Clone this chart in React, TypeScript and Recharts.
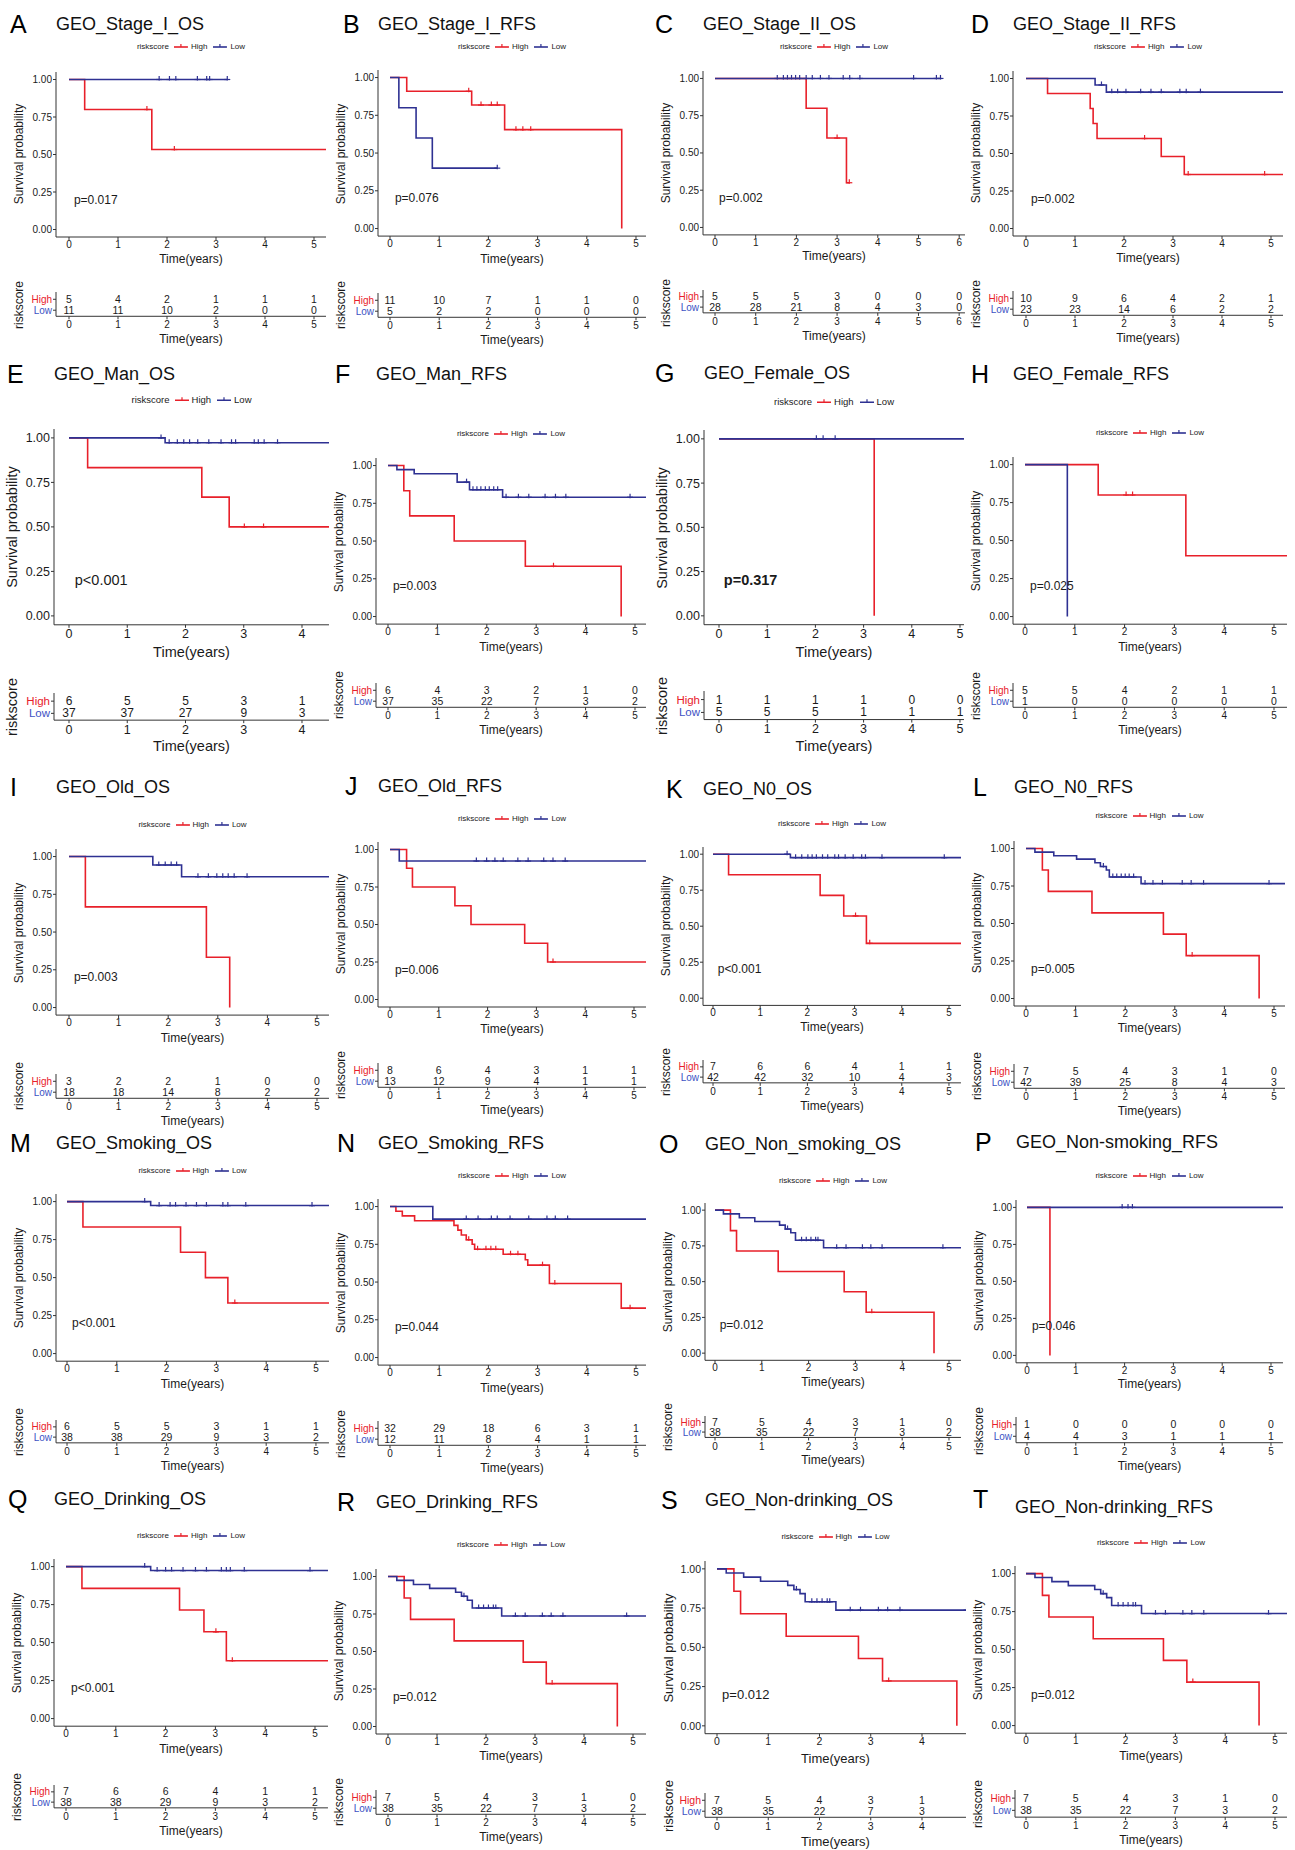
import React from "react";
import { ComposedChart, Line, Scatter, XAxis, YAxis } from "recharts";

type Pt = [number, number];

// Kaplan-Meier steps as [time in years, survival]
const stageIOsHigh: Pt[] = [[0, 1], [0.32, 0.8], [1.69, 0.533], [5.3, 0.533]];
const stageIOsLow: Pt[] = [[0, 1], [3.23, 1]];
const stageIOsHighCens = [1.59, 2.15];
const stageIOsLowCens = [1.84, 2.05, 2.18, 2.62, 2.81, 2.87, 3.23];
const stageIOsRiskHigh = [5, 4, 2, 1, 1, 1];
const stageIOsRiskLow = [11, 11, 10, 2, 0, 0];

const stageIRfsHigh: Pt[] = [[0, 1], [0.34, 0.909], [1.66, 0.818], [2.33, 0.655], [4.71, 0]];
const stageIRfsLow: Pt[] = [[0, 1], [0.18, 0.8], [0.53, 0.6], [0.86, 0.4], [2.18, 0.4]];
const stageIRfsHighCens = [1.6, 1.85, 2.06, 2.18, 2.56, 2.7, 2.86];
const stageIRfsLowCens = [2.18];
const stageIRfsRiskHigh = [11, 10, 7, 1, 1, 0];
const stageIRfsRiskLow = [5, 2, 2, 0, 0, 0];

const stageIIOsHigh: Pt[] = [[0, 1], [2.24, 0.8], [2.75, 0.6], [3.23, 0.3], [3.3, 0.3]];
const stageIIOsLow: Pt[] = [[0, 1], [5.56, 1]];
const stageIIOsHighCens = [3.0, 3.3];
const stageIIOsLowCens = [1.53, 1.68, 1.78, 1.88, 1.98, 2.08, 2.24, 2.39, 2.59, 2.8, 3.15, 3.31, 3.56, 4.88, 5.44, 5.54];
const stageIIOsRiskHigh = [5, 5, 5, 3, 0, 0, 0];
const stageIIOsRiskLow = [28, 28, 21, 8, 4, 3, 0];

const stageIIRfsHigh: Pt[] = [[0, 1], [0.44, 0.9], [1.31, 0.8], [1.37, 0.7], [1.45, 0.6], [2.76, 0.48], [3.23, 0.36], [5.3, 0.36]];
const stageIIRfsLow: Pt[] = [[0, 1], [1.41, 0.957], [1.64, 0.909], [5.3, 0.909]];
const stageIIRfsHighCens = [2.42, 3.31, 4.87];
const stageIIRfsLowCens = [1.54, 1.75, 1.87, 2.04, 2.34, 2.55, 2.76, 3.14, 3.27, 3.56];
const stageIIRfsRiskHigh = [10, 9, 6, 4, 2, 1];
const stageIIRfsRiskLow = [23, 23, 14, 6, 2, 2];

const manOsHigh: Pt[] = [[0, 1], [0.32, 0.833], [2.28, 0.667], [2.75, 0.5], [4.5, 0.5]];
const manOsLow: Pt[] = [[0, 1], [1.65, 0.973], [4.5, 0.973]];
const manOsHighCens = [3.01, 3.34];
const manOsLowCens = [1.58, 1.72, 1.86, 1.97, 2.07, 2.21, 2.4, 2.61, 2.79, 2.86, 3.18, 3.25, 3.35, 3.58];
const manOsRiskHigh = [6, 5, 5, 3, 1];
const manOsRiskLow = [37, 37, 27, 9, 3];

const manRfsHigh: Pt[] = [[0, 1], [0.32, 0.833], [0.44, 0.667], [1.34, 0.5], [2.78, 0.333], [4.72, 0]];
const manRfsLow: Pt[] = [[0, 1], [0.18, 0.973], [0.53, 0.946], [1.4, 0.89], [1.65, 0.84], [2.32, 0.79], [5.3, 0.79]];
const manRfsHighCens = [3.35];
const manRfsLowCens = [1.59, 1.72, 1.8, 1.88, 1.97, 2.05, 2.14, 2.22, 2.39, 2.64, 2.85, 3.18, 3.39, 3.6, 4.9];
const manRfsRiskHigh = [6, 4, 3, 2, 1, 0];
const manRfsRiskLow = [37, 35, 22, 7, 3, 2];

const femaleOsHigh: Pt[] = [[0, 1], [3.22, 0]];
const femaleOsLow: Pt[] = [[0, 1], [5.3, 1]];
const femaleOsHighCens: number[] = [];
const femaleOsLowCens = [2.02, 2.16, 2.41];
const femaleOsRiskHigh = [1, 1, 1, 1, 0, 0];
const femaleOsRiskLow = [5, 5, 5, 1, 1, 1];

const femaleRfsHigh: Pt[] = [[0, 1], [1.47, 0.8], [3.23, 0.4], [5.3, 0.4]];
const femaleRfsLow: Pt[] = [[0, 1], [0.85, 0]];
const femaleRfsHighCens = [2.03, 2.16];
const femaleRfsLowCens: number[] = [];
const femaleRfsRiskHigh = [5, 5, 4, 2, 1, 1];
const femaleRfsRiskLow = [1, 0, 0, 0, 0, 0];

const oldOsHigh: Pt[] = [[0, 1], [0.33, 0.667], [2.77, 0.333], [3.24, 0]];
const oldOsLow: Pt[] = [[0, 1], [1.69, 0.944], [2.27, 0.866], [5.3, 0.866]];
const oldOsHighCens: number[] = [];
const oldOsLowCens = [1.81, 1.94, 2.06, 2.17, 2.6, 2.81, 2.98, 3.1, 3.21, 3.33, 3.59];
const oldOsRiskHigh = [3, 2, 2, 1, 0, 0];
const oldOsRiskLow = [18, 18, 14, 8, 2, 2];

const oldRfsHigh: Pt[] = [[0, 1], [0.34, 0.875], [0.46, 0.75], [1.33, 0.625], [1.66, 0.5], [2.76, 0.375], [3.23, 0.25], [5.3, 0.25]];
const oldRfsLow: Pt[] = [[0, 1], [0.19, 0.923], [5.3, 0.923]];
const oldRfsHighCens = [3.34];
const oldRfsLowCens = [1.77, 1.98, 2.15, 2.32, 2.62, 2.83, 3.15, 3.34, 3.59];
const oldRfsRiskHigh = [8, 6, 4, 3, 1, 1];
const oldRfsRiskLow = [13, 12, 9, 4, 1, 1];

const n0OsHigh: Pt[] = [[0, 1], [0.33, 0.857], [2.27, 0.714], [2.77, 0.571], [3.25, 0.381], [5.3, 0.381]];
const n0OsLow: Pt[] = [[0, 1], [1.64, 0.976], [5.3, 0.976]];
const n0OsHighCens = [3.02, 3.32];
const n0OsLowCens = [1.57, 1.75, 1.88, 2.01, 2.1, 2.19, 2.32, 2.43, 2.58, 2.66, 2.8, 2.97, 3.15, 3.23, 3.58, 4.9];
const n0OsRiskHigh = [7, 6, 6, 4, 1, 1];
const n0OsRiskLow = [42, 42, 32, 10, 4, 3];

const n0RfsHigh: Pt[] = [[0, 1], [0.33, 0.857], [0.45, 0.714], [1.33, 0.571], [2.77, 0.429], [3.23, 0.286], [4.7, 0]];
const n0RfsLow: Pt[] = [[0, 1], [0.18, 0.976], [0.56, 0.952], [1.02, 0.929], [1.39, 0.905], [1.5, 0.88], [1.62, 0.857], [1.68, 0.81], [2.32, 0.766], [5.3, 0.766]];
const n0RfsHighCens = [3.35];
const n0RfsLowCens = [1.56, 1.75, 1.83, 1.92, 2.0, 2.08, 2.17, 2.4, 2.56, 2.75, 3.15, 3.33, 3.58, 4.9];
const n0RfsRiskHigh = [7, 5, 4, 3, 1, 0];
const n0RfsRiskLow = [42, 39, 25, 8, 4, 3];

const smokingOsHigh: Pt[] = [[0, 1], [0.32, 0.833], [2.28, 0.667], [2.78, 0.5], [3.23, 0.333], [5.3, 0.333]];
const smokingOsLow: Pt[] = [[0, 1], [1.68, 0.974], [5.3, 0.974]];
const smokingOsHighCens = [3.37];
const smokingOsLowCens = [1.56, 1.85, 2.07, 2.18, 2.39, 2.6, 2.8, 3.13, 3.23, 3.59, 4.92];
const smokingOsRiskHigh = [6, 5, 5, 3, 1, 1];
const smokingOsRiskLow = [38, 38, 29, 9, 3, 2];

const smokingRfsHigh: Pt[] = [
  [0, 1], [0.12, 0.969], [0.25, 0.938], [0.5, 0.906], [1.3, 0.875], [1.38, 0.844], [1.45, 0.812], [1.55, 0.78],
  [1.67, 0.75], [1.72, 0.717], [2.3, 0.684], [2.75, 0.648], [2.8, 0.612], [3.24, 0.49], [4.7, 0.327], [5.3, 0.327],
];
const smokingRfsLow: Pt[] = [[0, 1], [0.87, 0.917], [5.3, 0.917]];
const smokingRfsHighCens = [1.6, 1.78, 1.95, 2.05, 2.15, 2.45, 2.6, 3.1, 3.35, 4.88];
const smokingRfsLowCens = [1.55, 1.79, 2.06, 2.18, 2.44, 2.82, 3.19, 3.36, 3.61];
const smokingRfsRiskHigh = [32, 29, 18, 6, 3, 1];
const smokingRfsRiskLow = [12, 11, 8, 4, 1, 1];

// O, R, S and T show the same pair of curves
const nonSmokingOsHigh: Pt[] = [[0, 1], [0.33, 0.857], [0.46, 0.714], [1.35, 0.571], [2.76, 0.429], [3.23, 0.286], [4.68, 0]];
const nonSmokingOsLow: Pt[] = [[0, 1], [0.18, 0.974], [0.52, 0.947], [0.85, 0.921], [1.38, 0.895], [1.5, 0.868], [1.62, 0.842], [1.72, 0.79], [2.32, 0.737], [5.3, 0.737]];
const nonSmokingOsHighCens = [3.35];
const nonSmokingOsLowCens = [1.55, 1.85, 1.95, 2.05, 2.15, 2.2, 2.6, 2.8, 3.15, 3.33, 3.57, 4.87];
const nonSmokingOsRiskHigh = [7, 5, 4, 3, 1, 0];
const nonSmokingOsRiskLow = [38, 35, 22, 7, 3, 2];

const nonSmokingRfsHigh: Pt[] = [[0, 1], [0.47, 0]];
const nonSmokingRfsLow: Pt[] = [[0, 1], [5.3, 1]];
const nonSmokingRfsHighCens: number[] = [];
const nonSmokingRfsLowCens = [1.95, 2.07, 2.16];
const nonSmokingRfsRiskHigh = [1, 0, 0, 0, 0, 0];
const nonSmokingRfsRiskLow = [4, 4, 3, 1, 1, 1];

const drinkingOsHigh: Pt[] = [[0, 1], [0.32, 0.857], [2.28, 0.714], [2.77, 0.571], [3.22, 0.381], [5.3, 0.381]];
const drinkingOsLow: Pt[] = [[0, 1], [1.7, 0.974], [5.3, 0.974]];
const drinkingOsHighCens = [3.01, 3.34];
const drinkingOsLowCens = [1.58, 1.83, 2.0, 2.12, 2.35, 2.6, 2.82, 3.12, 3.22, 3.3, 3.58, 4.9];
const drinkingOsRiskHigh = [7, 6, 6, 4, 1, 1];
const drinkingOsRiskLow = [38, 38, 29, 9, 3, 2];

const drinkingRfsRiskHigh = [7, 5, 4, 3, 1, 0];
const drinkingRfsRiskLow = [38, 35, 22, 7, 3, 2];
const nonDrinkingOsRiskHigh = [7, 5, 4, 3, 1];
const nonDrinkingOsRiskLow = [38, 35, 22, 7, 3];
const nonDrinkingRfsRiskHigh = [7, 5, 4, 3, 1, 0];
const nonDrinkingRfsRiskLow = [38, 35, 22, 7, 3, 2];

const RED = "#E8202A";
const BLUE = "#2E3192";
const LOW_LAB = "#4052C4";
const AXIS = "#333333";
const INK = "#1a1a1a";
const FONT = "'Liberation Sans', Arial, Helvetica, sans-serif";

const HIGH_ROW = 0.7;
const LOW_ROW = 0.25;
const P_AT = { t: 0.1, s: 0.2 };
const YW = 44;
const XH = 26;

const panels = [
  { id: "A", title: "GEO_Stage_I_OS", p: "p=0.017", high: stageIOsHigh, low: stageIOsLow, hc: stageIOsHighCens, lc: stageIOsLowCens, rh: stageIOsRiskHigh, rl: stageIOsRiskLow },
  { id: "B", title: "GEO_Stage_I_RFS", p: "p=0.076", high: stageIRfsHigh, low: stageIRfsLow, hc: stageIRfsHighCens, lc: stageIRfsLowCens, rh: stageIRfsRiskHigh, rl: stageIRfsRiskLow },
  { id: "C", title: "GEO_Stage_II_OS", p: "p=0.002", high: stageIIOsHigh, low: stageIIOsLow, hc: stageIIOsHighCens, lc: stageIIOsLowCens, rh: stageIIOsRiskHigh, rl: stageIIOsRiskLow },
  { id: "D", title: "GEO_Stage_II_RFS", p: "p=0.002", high: stageIIRfsHigh, low: stageIIRfsLow, hc: stageIIRfsHighCens, lc: stageIIRfsLowCens, rh: stageIIRfsRiskHigh, rl: stageIIRfsRiskLow },
  { id: "E", title: "GEO_Man_OS", p: "p<0.001", high: manOsHigh, low: manOsLow, hc: manOsHighCens, lc: manOsLowCens, rh: manOsRiskHigh, rl: manOsRiskLow },
  { id: "F", title: "GEO_Man_RFS", p: "p=0.003", high: manRfsHigh, low: manRfsLow, hc: manRfsHighCens, lc: manRfsLowCens, rh: manRfsRiskHigh, rl: manRfsRiskLow },
  { id: "G", title: "GEO_Female_OS", p: "p=0.317", high: femaleOsHigh, low: femaleOsLow, hc: femaleOsHighCens, lc: femaleOsLowCens, rh: femaleOsRiskHigh, rl: femaleOsRiskLow },
  { id: "H", title: "GEO_Female_RFS", p: "p=0.025", high: femaleRfsHigh, low: femaleRfsLow, hc: femaleRfsHighCens, lc: femaleRfsLowCens, rh: femaleRfsRiskHigh, rl: femaleRfsRiskLow },
  { id: "I", title: "GEO_Old_OS", p: "p=0.003", high: oldOsHigh, low: oldOsLow, hc: oldOsHighCens, lc: oldOsLowCens, rh: oldOsRiskHigh, rl: oldOsRiskLow },
  { id: "J", title: "GEO_Old_RFS", p: "p=0.006", high: oldRfsHigh, low: oldRfsLow, hc: oldRfsHighCens, lc: oldRfsLowCens, rh: oldRfsRiskHigh, rl: oldRfsRiskLow },
  { id: "K", title: "GEO_N0_OS", p: "p<0.001", high: n0OsHigh, low: n0OsLow, hc: n0OsHighCens, lc: n0OsLowCens, rh: n0OsRiskHigh, rl: n0OsRiskLow },
  { id: "L", title: "GEO_N0_RFS", p: "p=0.005", high: n0RfsHigh, low: n0RfsLow, hc: n0RfsHighCens, lc: n0RfsLowCens, rh: n0RfsRiskHigh, rl: n0RfsRiskLow },
  { id: "M", title: "GEO_Smoking_OS", p: "p<0.001", high: smokingOsHigh, low: smokingOsLow, hc: smokingOsHighCens, lc: smokingOsLowCens, rh: smokingOsRiskHigh, rl: smokingOsRiskLow },
  { id: "N", title: "GEO_Smoking_RFS", p: "p=0.044", high: smokingRfsHigh, low: smokingRfsLow, hc: smokingRfsHighCens, lc: smokingRfsLowCens, rh: smokingRfsRiskHigh, rl: smokingRfsRiskLow },
  { id: "O", title: "GEO_Non_smoking_OS", p: "p=0.012", high: nonSmokingOsHigh, low: nonSmokingOsLow, hc: nonSmokingOsHighCens, lc: nonSmokingOsLowCens, rh: nonSmokingOsRiskHigh, rl: nonSmokingOsRiskLow },
  { id: "P", title: "GEO_Non-smoking_RFS", p: "p=0.046", high: nonSmokingRfsHigh, low: nonSmokingRfsLow, hc: nonSmokingRfsHighCens, lc: nonSmokingRfsLowCens, rh: nonSmokingRfsRiskHigh, rl: nonSmokingRfsRiskLow },
  { id: "Q", title: "GEO_Drinking_OS", p: "p<0.001", high: drinkingOsHigh, low: drinkingOsLow, hc: drinkingOsHighCens, lc: drinkingOsLowCens, rh: drinkingOsRiskHigh, rl: drinkingOsRiskLow },
  { id: "R", title: "GEO_Drinking_RFS", p: "p=0.012", high: nonSmokingOsHigh, low: nonSmokingOsLow, hc: nonSmokingOsHighCens, lc: nonSmokingOsLowCens, rh: drinkingRfsRiskHigh, rl: drinkingRfsRiskLow },
  { id: "S", title: "GEO_Non-drinking_OS", p: "p=0.012", high: nonSmokingOsHigh, low: nonSmokingOsLow, hc: nonSmokingOsHighCens, lc: nonSmokingOsLowCens, rh: nonDrinkingOsRiskHigh, rl: nonDrinkingOsRiskLow },
  { id: "T", title: "GEO_Non-drinking_RFS", p: "p=0.012", high: nonSmokingOsHigh, low: nonSmokingOsLow, hc: nonSmokingOsHighCens, lc: nonSmokingOsLowCens, rh: nonDrinkingRfsRiskHigh, rl: nonDrinkingRfsRiskLow },
];

// page layout of each panel (pixels): y-axis x, x-axis end, x of t=0, px per year,
// y of 1.00 and 0.00, title / legend rows, risk rows and risk axis line
type Layout = {
  lx: number; x: number; right: number; t0: number; ppy: number; y1: number; y0: number;
  titleY: number; labelY?: number; legY: number; hiY: number; loY: number; rl: number;
  size?: "big" | "mid"; pBold?: boolean;
};
const layouts: Layout[] = [
  { lx: 10, x: 56, right: 326, t0: 69, ppy: 49, y1: 79, y0: 229, titleY: 24, legY: 47, hiY: 299, loY: 310, rl: 316 },
  { lx: 343, x: 378, right: 646, t0: 390, ppy: 49.2, y1: 78, y0: 229, titleY: 24, legY: 47, hiY: 300, loY: 310, rl: 317 },
  { lx: 655, x: 703, right: 965, t0: 715, ppy: 40.7, y1: 78, y0: 227, titleY: 24, legY: 47, hiY: 297, loY: 308, rl: 313 },
  { lx: 971, x: 1013, right: 1283, t0: 1026, ppy: 49, y1: 78, y0: 228, titleY: 24, legY: 47, hiY: 298, loY: 309, rl: 315 },
  { lx: 7, x: 54, right: 329, t0: 69, ppy: 58.25, y1: 438, y0: 616, titleY: 374, legY: 400, hiY: 701, loY: 712, rl: 720, size: "big" },
  { lx: 335, x: 376, right: 646, t0: 388, ppy: 49.4, y1: 466, y0: 617, titleY: 374, legY: 434, hiY: 690, loY: 700, rl: 707 },
  { lx: 655, x: 704, right: 964, t0: 719, ppy: 48.2, y1: 439, y0: 616, titleY: 373, legY: 402, hiY: 700, loY: 712, rl: 720, size: "big", pBold: true },
  { lx: 971, x: 1013, right: 1287, t0: 1025, ppy: 49.8, y1: 465, y0: 617, titleY: 374, legY: 433, hiY: 690, loY: 701, rl: 707 },
  { lx: 10, x: 56, right: 329, t0: 69, ppy: 49.6, y1: 857, y0: 1008, titleY: 787, legY: 825, hiY: 1081, loY: 1091, rl: 1098 },
  { lx: 345, x: 378, right: 646, t0: 390, ppy: 48.8, y1: 849, y0: 999, titleY: 786, legY: 819, hiY: 1070, loY: 1080, rl: 1087 },
  { lx: 666, x: 703, right: 961, t0: 713, ppy: 47.2, y1: 854, y0: 998, titleY: 789, legY: 824, hiY: 1067, loY: 1077, rl: 1083 },
  { lx: 973, x: 1014, right: 1285, t0: 1026, ppy: 49.6, y1: 848, y0: 998, titleY: 787, legY: 816, hiY: 1071, loY: 1081, rl: 1088 },
  { lx: 10, x: 56, right: 329, t0: 67, ppy: 49.8, y1: 1202, y0: 1354, titleY: 1143, legY: 1171, hiY: 1427, loY: 1437, rl: 1443 },
  { lx: 337, x: 378, right: 646, t0: 390, ppy: 49.2, y1: 1207, y0: 1358, titleY: 1143, legY: 1176, hiY: 1428, loY: 1439, rl: 1445 },
  { lx: 659, x: 705, right: 961, t0: 715, ppy: 46.8, y1: 1210, y0: 1353, titleY: 1144, legY: 1181, hiY: 1422, loY: 1432, rl: 1437 },
  { lx: 975, x: 1016, right: 1283, t0: 1027, ppy: 48.8, y1: 1207, y0: 1355, titleY: 1142, legY: 1176, hiY: 1425, loY: 1437, rl: 1443 },
  { lx: 8, x: 54, right: 328, t0: 66, ppy: 49.8, y1: 1567, y0: 1719, titleY: 1499, legY: 1536, hiY: 1792, loY: 1802, rl: 1808 },
  { lx: 337, x: 376, right: 646, t0: 388, ppy: 49, y1: 1576, y0: 1726, titleY: 1502, legY: 1545, hiY: 1797, loY: 1807, rl: 1814 },
  { lx: 661, x: 705, right: 966, t0: 717, ppy: 51.25, y1: 1569, y0: 1726, titleY: 1500, legY: 1537, hiY: 1800, loY: 1811, rl: 1817, size: "mid" },
  { lx: 973, x: 1015, right: 1287, t0: 1026, ppy: 49.8, y1: 1574, y0: 1726, titleY: 1507, labelY: 1499, legY: 1543, hiY: 1798, loY: 1809, rl: 1817 },
];

const SIZES = {
  normal: { tick: 10, axis: 12, legend: 8, risk: 10.5, riskLab: 10, p: 12, time: 22, rtime: 23 },
  mid: { tick: 10.5, axis: 13, legend: 8, risk: 10.5, riskLab: 10.5, p: 13, time: 24, rtime: 24 },
  big: { tick: 12.5, axis: 14.5, legend: 9.5, risk: 12, riskLab: 11.5, p: 14.5, time: 27, rtime: 26 },
};

const survAt = (curve: Pt[], t: number) => {
  let s = curve[0][1];
  for (const [ti, si] of curve) if (ti <= t) s = si;
  return s;
};

const plus = (color: string) => (props: any) => {
  const { cx, cy } = props;
  if (cx == null || cy == null) return <g />;
  return (
    <g stroke={color} strokeWidth={1.2}>
      <line x1={cx - 3} y1={cy} x2={cx + 3} y2={cy} />
      <line x1={cx} y1={cy - 3.5} x2={cx} y2={cy + 1} />
    </g>
  );
};

const abs = (x: number, y: number, extra: React.CSSProperties = {}): React.CSSProperties => ({
  position: "absolute",
  left: x,
  top: y,
  lineHeight: 1,
  whiteSpace: "nowrap",
  color: INK,
  ...extra,
});

function LegendKey({ color }: { color: string }) {
  return (
    <svg width={14} height={8} style={{ display: "block" }}>
      <line x1={0} y1={4} x2={14} y2={4} stroke={color} strokeWidth={1.6} />
      <line x1={7} y1={1} x2={7} y2={4} stroke={color} strokeWidth={1.2} />
    </svg>
  );
}

function Panel({ d, L }: { d: (typeof panels)[number]; L: Layout }) {
  const fs = SIZES[L.size || "normal"];
  const span = L.y0 - L.y1;
  const plotTop = L.y1 - 0.05 * span;
  const plotH = 1.1 * span;
  const axisY = L.y0 + 0.05 * span;
  const plotW = L.right - L.x;
  const xmin = -(L.t0 - L.x) / L.ppy;
  const xmax = (L.right - L.t0) / L.ppy;
  const ticks = d.rh.map((_, i) => i);
  const cx = (L.x + L.right) / 2;
  const riskH = (L.rl - L.hiY) / HIGH_ROW;
  const labX = L.x - (L.size === "big" ? 42 : 37);

  const highRows = d.high.map(([t, s]) => ({ t, s }));
  const lowRows = d.low.map(([t, s]) => ({ t, s }));
  const highCens = d.hc.map((t) => ({ t, s: survAt(d.high, t) }));
  const lowCens = d.lc.map((t) => ({ t, s: survAt(d.low, t) }));
  const riskRows = [
    ...d.rh.map((n, i) => ({ t: i, y: HIGH_ROW, n })),
    ...d.rl.map((n, i) => ({ t: i, y: LOW_ROW, n })),
  ];

  const tickStyle = { fontSize: fs.tick, fill: INK, fontFamily: FONT };
  const rotated = (x: number, y: number, size: number, text: string) => (
    <div style={abs(x, y, { fontSize: size, transform: "translate(-50%,-50%) rotate(-90deg)" })}>{text}</div>
  );

  const RiskTick = (props: any) => {
    const { x, y, payload } = props;
    const isHigh = Math.abs(payload.value - HIGH_ROW) < 1e-6;
    return (
      <text x={x} y={y} textAnchor="end" dominantBaseline="central" fontSize={fs.riskLab} fontFamily={FONT} fill={isHigh ? RED : LOW_LAB}>
        {isHigh ? "High" : "Low"}
      </text>
    );
  };

  return (
    <>
      <div style={abs(L.lx, L.labelY ?? L.titleY, { fontSize: 25, transform: "translateY(-50%)", color: "#000" })}>{d.id}</div>
      <div style={abs(L.x, L.titleY, { fontSize: 18, transform: "translateY(-50%)", color: "#111" })}>{d.title}</div>

      <div
        style={abs(cx, L.legY, {
          fontSize: fs.legend,
          transform: "translate(-50%,-50%)",
          display: "flex",
          alignItems: "center",
          gap: 3,
        })}
      >
        <span style={{ marginRight: 2 }}>riskscore</span>
        <LegendKey color={RED} />
        <span style={{ marginRight: 3 }}>High</span>
        <LegendKey color={BLUE} />
        <span>Low</span>
      </div>

      {rotated(labX, (L.y0 + L.y1) / 2, fs.axis, "Survival probability")}

      <div style={{ position: "absolute", left: L.x - YW, top: plotTop }}>
        <ComposedChart width={YW + plotW} height={plotH + XH} margin={{ top: 0, right: 0, bottom: 0, left: 0 }}>
          <XAxis
            type="number"
            dataKey="t"
            domain={[xmin, xmax]}
            ticks={ticks}
            interval={0}
            allowDataOverflow
            height={XH}
            tickSize={3}
            tickMargin={1}
            stroke={AXIS}
            tick={tickStyle}
          />
          <YAxis
            type="number"
            domain={[-0.05, 1.05]}
            ticks={[0, 0.25, 0.5, 0.75, 1]}
            interval={0}
            allowDataOverflow
            width={YW}
            tickSize={3}
            tickMargin={1}
            stroke={AXIS}
            tick={tickStyle}
            tickFormatter={(v: number) => v.toFixed(2)}
          />
          <Line data={highRows} dataKey="s" type="stepAfter" stroke={RED} strokeWidth={1.6} dot={false} activeDot={false} isAnimationActive={false} />
          <Line data={lowRows} dataKey="s" type="stepAfter" stroke={BLUE} strokeWidth={1.6} dot={false} activeDot={false} isAnimationActive={false} />
          <Scatter data={highCens} dataKey="s" shape={plus(RED)} isAnimationActive={false} />
          <Scatter data={lowCens} dataKey="s" shape={plus(BLUE)} isAnimationActive={false} />
          <Scatter
            data={[P_AT]}
            dataKey="s"
            isAnimationActive={false}
            shape={(props: any) => (
              <text
                x={props.cx}
                y={props.cy}
                dominantBaseline="central"
                fontSize={fs.p}
                fontFamily={FONT}
                fontWeight={L.pBold ? "bold" : "normal"}
                fill={INK}
              >
                {d.p}
              </text>
            )}
          />
        </ComposedChart>
      </div>

      <div style={abs(cx, axisY + fs.time, { fontSize: fs.axis, transform: "translate(-50%,-50%)" })}>Time(years)</div>

      {rotated(labX, (L.hiY + L.loY) / 2, fs.axis, "riskscore")}

      <div style={{ position: "absolute", left: L.x - YW, top: L.rl - riskH }}>
        <ComposedChart width={YW + plotW} height={riskH + XH} margin={{ top: 0, right: 0, bottom: 0, left: 0 }}>
          <XAxis
            type="number"
            dataKey="t"
            domain={[xmin, xmax]}
            ticks={ticks}
            interval={0}
            allowDataOverflow
            height={XH}
            tickSize={3}
            tickMargin={2}
            stroke={AXIS}
            tick={tickStyle}
          />
          <YAxis
            type="number"
            domain={[0, 1]}
            ticks={[LOW_ROW, HIGH_ROW]}
            interval={0}
            allowDataOverflow
            width={YW}
            tickSize={3}
            tickMargin={1}
            stroke={AXIS}
            tick={<RiskTick />}
          />
          <Scatter
            data={riskRows}
            dataKey="y"
            isAnimationActive={false}
            shape={(props: any) => (
              <text x={props.cx} y={props.cy} textAnchor="middle" dominantBaseline="central" fontSize={fs.risk} fontFamily={FONT} fill={INK}>
                {props.payload?.n ?? props.n}
              </text>
            )}
          />
        </ComposedChart>
      </div>

      <div style={abs(cx, L.rl + fs.rtime, { fontSize: fs.axis, transform: "translate(-50%,-50%)" })}>Time(years)</div>
    </>
  );
}

export default function App() {
  return (
    <div
      style={{
        position: "absolute",
        left: 0,
        top: 0,
        width: 1295,
        height: 1850,
        background: "#fff",
        fontFamily: FONT,
        overflow: "hidden",
      }}
    >
      {panels.map((d, i) => (
        <Panel key={d.id} d={d} L={layouts[i]} />
      ))}
    </div>
  );
}
